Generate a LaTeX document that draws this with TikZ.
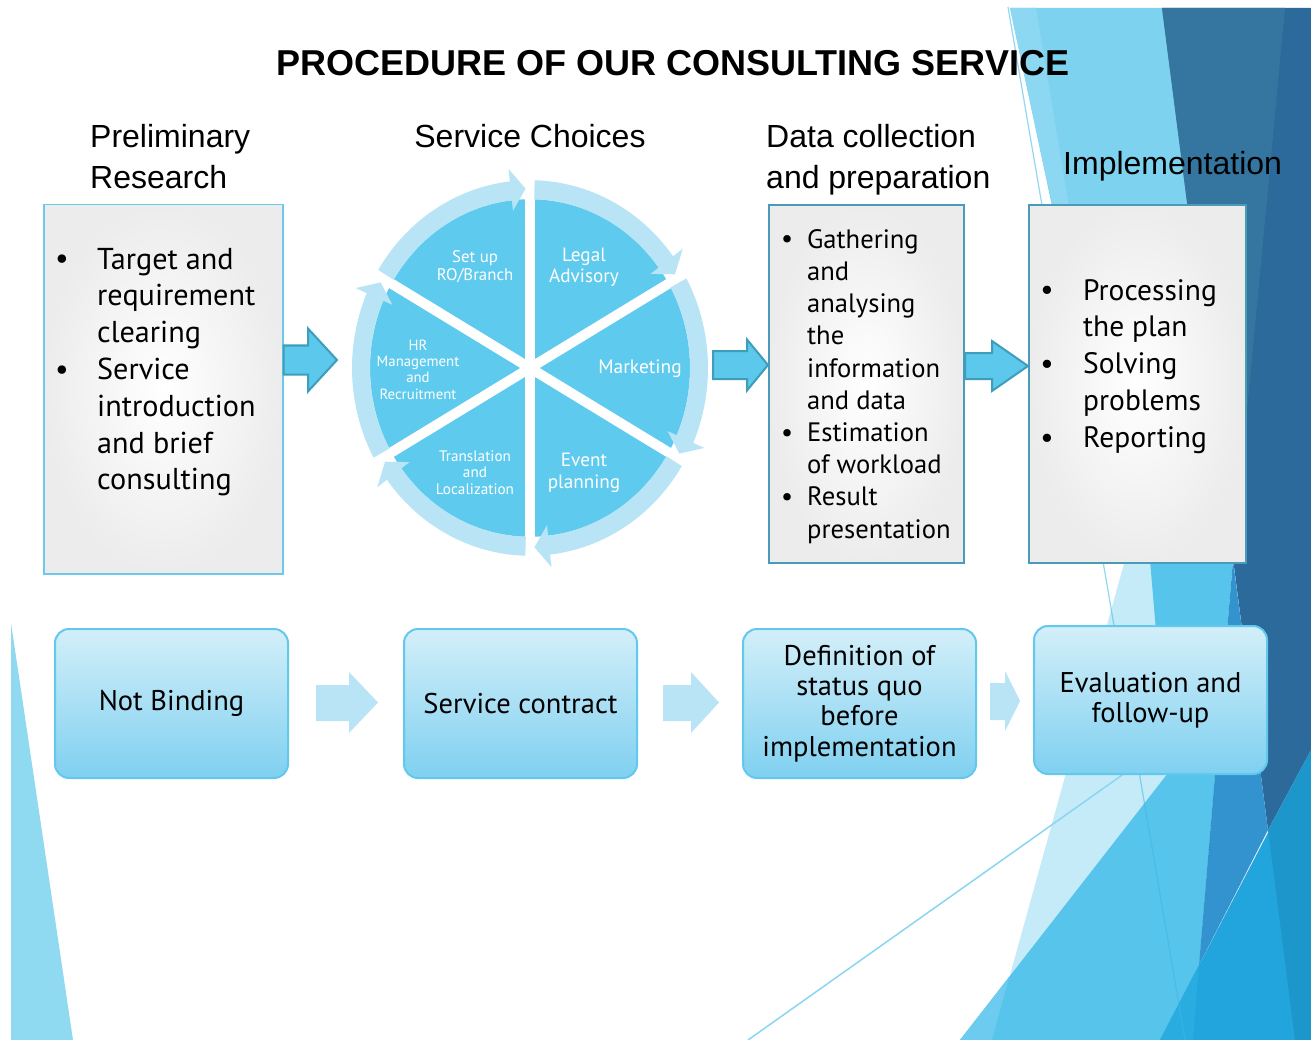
\documentclass[tikz,border=0pt]{standalone}
\usepackage{fontspec}
\setmainfont{PT Sans}
\newfontfamily\arialf{Liberation Sans}
\usetikzlibrary{calc}
\definecolor{cLeftTri}{HTML}{8FD9F1}
\definecolor{cA}{HTML}{7DD3EF}
\definecolor{cA2}{HTML}{8CD7F1}
\definecolor{cB}{HTML}{C5EBF8}
\definecolor{cC}{HTML}{57C4EB}
\definecolor{cC2}{HTML}{6CCBEE}
\definecolor{cD}{HTML}{2B6A9A}
\definecolor{cD1}{HTML}{34769F}
\definecolor{cM}{HTML}{3393CF}
\definecolor{cT}{HTML}{22A5DC}
\definecolor{cT2}{HTML}{1D97CB}
\definecolor{cT3}{HTML}{29ADE0}
\definecolor{cLine}{HTML}{3AB8E6}
\definecolor{cLine2}{HTML}{8AD6F2}
\definecolor{cPie}{HTML}{5ECBEE}
\definecolor{cRing}{HTML}{B8E4F6}
\definecolor{cArrF}{HTML}{5BC8EC}
\definecolor{cArrD}{HTML}{3E9DBA}
\definecolor{cArrL}{HTML}{B9E4F6}
\definecolor{cBordL}{HTML}{6BC9EA}
\definecolor{cBordT}{HTML}{4B9BB8}
\definecolor{cGrayOut}{HTML}{ECECEC}
\definecolor{cBotTop}{HTML}{D3EFF9}
\definecolor{cBotBot}{HTML}{7FD0F0}
\definecolor{cBotBord}{HTML}{62C8EE}
\begin{document}
\begin{tikzpicture}[x=1pt,y=-1pt,
  topbox/.style={inner color=white, outer color=cGrayOut, anchor=north west, inner sep=0pt},
  botbox/.style={top color=cBotTop, bottom color=cBotBot, draw=cBotBord, line width=2pt,
     rounded corners=14pt, anchor=north west, inner sep=0pt, align=center,
     font=\fontsize{28.5}{30.3}\selectfont, minimum width=233pt, minimum height=149pt},
  heading/.style={font=\arialf\fontsize{32}{41}\selectfont, inner sep=0pt, align=left, anchor=north west},
  bigtxt/.style={font=\fontsize{30.2}{36.8}\selectfont, inner sep=0pt, align=left, anchor=north west},
  impltxt/.style={font=\fontsize{29.5}{36.8}\selectfont, inner sep=0pt, align=left, anchor=north west},
  smalltxt/.style={font=\fontsize{26.6}{32.2}\selectfont, inner sep=0pt, align=left, anchor=north west},
  bul/.style={inner sep=0pt, anchor=base},
  toparrow/.style={fill=cArrF, draw=cArrD, line width=2pt, line join=miter},
  botarrow/.style={fill=cArrL},
  seclabel/.style={text=white, align=center, inner sep=0pt}
]
\useasboundingbox (0,0) rectangle (1311,1040);
\fill[white] (0,0) rectangle (1311,1040);
% ---------- background facets ----------
\fill[cLeftTri] (11,623) -- (11,1040) -- (73,1040) -- cycle;
\fill[cA] (1010,8) -- (1162,8) -- (1233,560) -- (1127,560) -- cycle;
\fill[cA2] (1010,8) -- (1036,8) -- (1125,545) -- cycle;
\fill[cB] (1125,560) -- (1152,560) -- (1175,800) -- (1100,1040) -- (992,1040) -- cycle;
\fill[cC] (1150,560) -- (1233,560) -- (1193,1040) -- (960,1040) -- (1168,773) -- cycle;
\fill[cC2] (960,1040) -- (992,1040) -- (1009,977) -- cycle;
\fill[cD] (1162,8) -- (1311,8) -- (1311,750) -- (1268,830) -- cycle;
\fill[cD1] (1162,8) -- (1285,8) -- (1233,560) -- cycle;
\fill[cM] (1233,560) -- (1268,830) -- (1199,965) -- cycle;
\fill[cT] (1311,750) -- (1311,1040) -- (1160,1040) -- cycle;
\fill[cT2] (1268,830) -- (1311,750) -- (1311,1040) -- (1295,1040) -- cycle;
\fill[cT3] (1199,965) -- (1193,1040) -- (1160,1040) -- cycle;
\draw[cLine, opacity=0.55, line width=1.2pt] (1008,7) -- (1185,1040);
\draw[cLine2, line width=1.5pt] (748,1040) -- (1125,773);
% ---------- title and headings ----------
\node[font=\arialf\bfseries\fontsize{36}{40}\selectfont, anchor=base, inner sep=0pt] (title) at (673,76) {PROCEDURE OF OUR CONSULTING SERVICE};
\node[heading] (h1) at (90,118.3) {\strut Preliminary\\Research};
\node[heading, anchor=north] (h2) at (530,118.3) {\strut Service Choices};
\node[heading] (h3) at (766,118.3) {\strut Data collection\\and preparation};
\node[heading] (h4) at (1063,145.3) {\strut Implementation};
% ---------- top row boxes ----------
\node[topbox, draw=cBordL, line width=1.5pt, minimum width=239pt, minimum height=369pt] (pre) at (43,204) {};
\node[topbox, draw=cBordT, line width=2pt, minimum width=195pt, minimum height=358pt] (data) at (768,204) {};
\node[topbox, draw=cBordT, line width=2pt, minimum width=217pt, minimum height=358pt] (impl) at (1028,204) {};
\node[bigtxt] (pretxt) at (97,243.2) {\strut Target and\\requirement\\clearing\\Service\\introduction\\and brief\\consulting};
\node[bigtxt, bul] (pb1) at (62,269) {•};
\node[bigtxt, bul] (pb2) at (62,379.4) {•};
\node[smalltxt] (datatxt) at (807,225.5) {\strut Gathering\\and\\analysing\\the\\information\\and data\\Estimation\\of workload\\Result\\presentation};
\node[smalltxt, bul] (db1) at (787,248) {•};
\node[smalltxt, bul] (db2) at (787,441.2) {•};
\node[smalltxt, bul] (db3) at (787,505.6) {•};
\node[impltxt] (impltxt) at (1083,274.2) {\strut Processing\\the plan\\Solving\\problems\\Reporting};
\node[impltxt, bul] (ib1) at (1047,300) {•};
\node[impltxt, bul] (ib2) at (1047,373.6) {•};
\node[impltxt, bul] (ib3) at (1047,447.2) {•};
% ---------- cycle ----------
\begin{scope}[shift={(530,368)}, yscale=-1.055]
  \fill[cPie] (0,0) circle[radius=160];
  \foreach \a in {90,30,150} \draw[white, line width=10pt] (\a:163) -- (\a+180:163);
  \foreach \b in {150,90,...,-150} {
    \pgfmathsetmacro\s{\b-1.5}
    \pgfmathsetmacro\h{\b-53.5}
    \pgfmathsetmacro\t{\b-58.5}
    \fill[cRing] (\s:160) arc[start angle=\s, end angle=\h, radius=160] -- (\h:150) -- (\t:170)
       -- (\h:190) -- (\h:178) arc[start angle=\h, end angle=\s, radius=178] -- cycle;
  }
  \coordinate (cyc) at (0,0);
\end{scope}
\node[seclabel, font=\fontsize{16.8}{17.5}\selectfont] (s1) at (475,266.5) {Set up\\RO/Branch};
\node[seclabel, font=\fontsize{19.2}{20.5}\selectfont] (s2) at (584,267) {Legal\\Advisory};
\node[seclabel, font=\fontsize{19.4}{20}\selectfont] (s3) at (640,369) {Marketing};
\node[seclabel, font=\fontsize{19.2}{22}\selectfont] (s4) at (584,473) {Event\\planning};
\node[seclabel, font=\fontsize{15.2}{16.5}\selectfont] (s5) at (475,472.5) {Translation\\and\\Localization};
\node[seclabel, font=\fontsize{14.8}{16.3}\selectfont] (s6) at (418,369.5) {HR\\Management\\and\\Recruitment};
% ---------- top arrows ----------
\draw[toparrow] (pre.east |- 0,345.5) -- (308,345.5) -- (308,328.5) -- (337,360) -- (308,391.5) -- (308,374.5) -- (pre.east |- 0,374.5) -- cycle;
\draw[toparrow] (713,351) -- (747,351) -- (747,339.5) -- (data.west |- 0,365) -- (747,390.5) -- (747,379) -- (713,379) -- cycle;
\draw[toparrow] (data.east |- 0,353) -- (992,353) -- (992,341) -- (impl.west |- 0,366) -- (992,391) -- (992,379) -- (data.east |- 0,379) -- cycle;
% ---------- bottom row ----------
\node[botbox] (nb) at (54,628) {Not Binding};
\node[botbox] (sc) at (403,628) {Service contract};
\node[botbox] (dq) at (742,628) {Definition of\\status quo\\before\\implementation};
\node[botbox, minimum height=148pt] (ev) at (1033,625) {Evaluation and\\follow-up};
\fill[botarrow] (316,685) -- (349,685) -- (349,672) -- (378,702.5) -- (349,733) -- (349,721) -- (316,721) -- cycle;
\fill[botarrow] (663,685) -- (691,685) -- (691,672) -- (719,702.5) -- (691,733) -- (691,721) -- (663,721) -- cycle;
\fill[botarrow] (990,683) -- (1005,683) -- (1005,671) -- (1020,701) -- (1005,731) -- (1005,720) -- (990,720) -- cycle;
\end{tikzpicture}
\end{document}
